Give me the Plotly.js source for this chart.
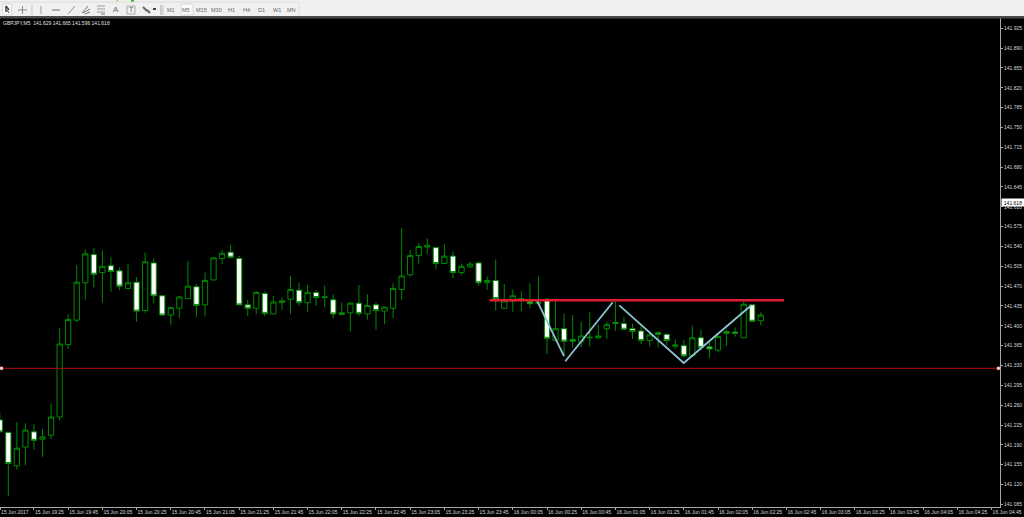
<!DOCTYPE html>
<html>
<head>
<meta charset="utf-8">
<script src="https://cdn.plot.ly/plotly-3.0.1.min.js"></script>
<style>html,body{margin:0;padding:0;background:#000;overflow:hidden}#chart{width:1024px;height:517px}</style>
</head>
<body>
<div id="chart"></div>
<script>
const barIndex = [-1,0,1,2,3,4,5,6,7,8,9,10,11,12,13,14,15,16,17,18,19,20,21,22,23,24,25,26,27,28,29,30,31,32,33,34,35,36,37,38,39,40,41,42,43,44,45,46,47,48,49,50,51,52,53,54,55,56,57,58,59,60,61,62,63,64,65,66,67,68,69,70,71,72,73,74,75,76,77,78,79,80,81,82,83,84,85,86,87,88];
const openPrice = [141.234,141.212,141.153,141.186,141.213,141.200,141.207,141.239,141.367,141.410,141.476,141.526,141.494,141.506,141.497,141.466,141.477,141.427,141.511,141.453,141.419,141.431,141.448,141.469,141.437,141.481,141.519,141.530,141.519,141.437,141.431,141.457,141.421,141.441,141.447,141.463,141.441,141.459,141.450,141.446,141.420,141.423,141.440,141.421,141.437,141.426,141.431,141.464,141.490,141.524,141.539,141.538,141.510,141.523,141.494,141.504,141.511,141.476,141.480,141.431,141.444,141.448,141.443,141.439,141.447,141.374,141.395,141.376,141.372,141.380,141.379,141.395,141.406,141.404,141.395,141.391,141.374,141.388,141.385,141.364,141.365,141.347,141.379,141.363,141.357,141.390,141.389,141.379,141.437,141.409];
const highPrice = [141.246,141.213,141.230,141.228,141.227,141.218,141.263,141.396,141.420,141.507,141.535,141.537,141.533,141.521,141.503,141.509,141.486,141.529,141.519,141.453,141.434,141.453,141.514,141.474,141.494,141.520,141.534,141.543,141.523,141.446,141.461,141.461,141.453,141.450,141.488,141.476,141.472,141.463,141.471,141.456,141.441,141.441,141.472,141.456,141.441,141.434,141.475,141.572,141.534,141.546,141.554,141.540,141.544,141.531,141.510,141.513,141.514,141.487,141.517,141.474,141.464,141.461,141.475,141.487,141.449,141.443,141.421,141.419,141.407,141.424,141.402,141.407,141.447,141.416,141.404,141.399,141.390,141.390,141.387,141.376,141.375,141.400,141.393,141.372,141.387,141.394,141.397,141.443,141.438,141.424];
const lowPrice = [141.212,141.100,141.146,141.154,141.182,141.169,141.200,141.233,141.359,141.406,141.446,141.468,141.441,141.460,141.463,141.465,141.407,141.423,141.440,141.418,141.402,141.414,141.447,141.416,141.417,141.480,141.509,141.519,141.437,141.417,141.421,141.417,141.421,141.428,141.421,141.435,141.425,141.435,141.433,141.413,141.420,141.390,141.417,141.411,141.393,141.403,141.414,141.446,141.487,141.510,141.527,141.500,141.509,141.484,141.490,141.502,141.471,141.464,141.427,141.430,141.425,141.426,141.431,141.439,141.350,141.373,141.347,141.362,141.362,141.364,141.377,141.377,141.391,141.393,141.377,141.368,141.364,141.362,141.366,141.359,141.344,141.347,141.357,141.343,141.353,141.364,141.381,141.379,141.407,141.401];
const closePrice = [141.213,141.157,141.184,141.216,141.198,141.204,141.239,141.368,141.411,141.477,141.527,141.491,141.505,141.496,141.470,141.476,141.426,141.513,141.453,141.419,141.432,141.451,141.470,141.436,141.480,141.520,141.528,141.521,141.437,141.431,141.459,141.422,141.442,141.444,141.464,141.441,141.459,141.450,141.451,141.421,141.423,141.440,141.422,141.436,141.427,141.433,141.466,141.488,141.524,141.540,141.542,141.510,141.523,141.494,141.505,141.509,141.476,141.480,141.448,141.444,141.453,141.447,141.439,141.441,141.378,141.395,141.373,141.373,141.382,141.379,141.382,141.402,141.404,141.394,141.390,141.374,141.384,141.385,141.374,141.366,141.347,141.379,141.362,141.359,141.381,141.387,141.387,141.438,141.408,141.419];

const xTickBars = [-0.96,3,7,11,15,19,23,27,31,35,39,43,47,51,55,59,63,67,71,75,79,83,87,91,95,99,103,107,111,115];
const xTickLabels = ["15 Jun 2017","15 Jun 19:25","15 Jun 19:45","15 Jun 20:05","15 Jun 20:25","15 Jun 20:45","15 Jun 21:05","15 Jun 21:25","15 Jun 21:45","15 Jun 22:05","15 Jun 22:25","15 Jun 22:45","15 Jun 23:05","15 Jun 23:25","15 Jun 23:45","16 Jun 00:05","16 Jun 00:25","16 Jun 00:45","16 Jun 01:05","16 Jun 01:25","16 Jun 01:45","16 Jun 02:05","16 Jun 02:25","16 Jun 02:45","16 Jun 03:05","16 Jun 03:25","16 Jun 03:45","16 Jun 04:05","16 Jun 04:25","16 Jun 04:45"];
const yTickPrices = [141.925,141.890,141.855,141.820,141.785,141.750,141.715,141.680,141.645,141.610,141.575,141.540,141.505,141.470,141.435,141.400,141.365,141.330,141.295,141.260,141.225,141.190,141.155,141.120,141.085];

const supportLevel = 141.325;
const resistanceBars = [56.28,90.72];
const resistancePrice = [141.445,141.445];
const legA_bars = [61.80,64.99];
const legA_price = [141.4455,141.3467];
const legB_bars = [65.14,70.69];
const legB_price = [141.3374,141.4415];
const legC_bars = [71.46,78.99,86.83];
const legC_price = [141.4362,141.3344,141.4355];

const quote = "GBPJPY,M5  141.629 141.665 141.596 141.618";
const lastPrice = 141.618;
const periods = ["M1","M5","M15","M30","H1","H4","D1","W1","MN"];
const periodX = [171,186,201,216,231,246,261,277,291];

const W=1024,H=517,mT=18,mB=10,mR=24,mL=0;
const pw=W-mL-mR, ph=H-mT-mB;
const fx=x=>(x-mL)/pw, fy=y=>1-(y-mT)/ph;
const font="'Liberation Sans',Arial,sans-serif";
const rect=(x0,y0,x1,y1,fill,line)=>({type:'rect',xref:'paper',yref:'paper',x0:fx(x0),x1:fx(x1),y0:fy(y1),y1:fy(y0),fillcolor:fill,line:{width:line?1:0,color:line||fill},layer:'above'});
const seg=(x0,y0,x1,y1,c,w)=>({type:'line',xref:'paper',yref:'paper',x0:fx(x0),x1:fx(x1),y0:fy(y0),y1:fy(y1),line:{color:c||'#8a8a8a',width:w||1},layer:'above'});

const shapes=[
  rect(0,0,1024,16,'#f0f0f0'),
  rect(0,16,1024,18.5,'#4a4a4a'),
  seg(0,2,300,2,'#dcdcdc'),
  rect(116.5,0,118,1.2,'#e0b020'), rect(131,0,134,1.5,'#30b030'),
  rect(2.5,4,11.5,15,'#fafafa','#d8d8d8'),
  rect(181,4,193,15,'#fafafa','#d8d8d8'),
  seg(6,6,6,12,'#444',1.5), seg(6,6,9,10,'#444',1.5), seg(7,10,9,13,'#444',1),
  seg(22.5,6,22.5,14), seg(18,10,27,10),
  seg(32,5,32,15,'#c4c4c4'),
  seg(41,6,41,14,'#a0a0a0'), seg(52,10,60,10,'#707070'), seg(68,14,75,6,'#909090'),
  seg(82,13,88,6,'#777'), seg(83,13,90,9,'#777'), seg(85,14,90,12,'#777'),
  seg(97,6,105,6,'#999'), seg(97,9,105,9,'#999'), seg(97,12,105,12,'#999'), seg(101,14,105,14,'#777'),
  rect(127,6,135,14,'#f0f0f0','#aaa'),
  seg(143,7,147,11,'#666',2), seg(147,10,150,13,'#666',2), seg(153,9,156,9,'#444',2),
  seg(161,5,161,15,'#a8a8a8'), seg(163,5,163,15,'#c8c8c8'), seg(299,3,299,16,'#dcdcdc')
];

const centred=(x,y,text,size)=>({xref:'paper',yref:'paper',x:fx(x),y:fy(y),xanchor:'center',yanchor:'middle',text:text,showarrow:false,font:{family:font,size:size,color:'#666'}});
const annotations=[
  {xref:'paper',yref:'paper',x:fx(1),y:fy(23),xanchor:'left',yanchor:'middle',text:quote,showarrow:false,font:{family:font,size:5,color:'#e0e0e0'}},
  {xref:'paper',yref:'y',x:1.0005,y:lastPrice,xanchor:'left',yanchor:'middle',text:lastPrice.toFixed(3),showarrow:false,bgcolor:'#ffffff',width:22,height:7,borderpad:0,font:{family:font,size:5,color:'#000'}},
  centred(116,10,'A',8),
  centred(131,10,'T',7)
];
periods.forEach((p,i)=>annotations.push(centred(periodX[i],10,p,5.5)));

const xr=[-0.974,115.98];
const blue={color:'#8fc3d4',width:1.8};
const traces=[
  {type:'candlestick',x:barIndex,open:openPrice,high:highPrice,low:lowPrice,close:closePrice,whiskerwidth:0,
   increasing:{line:{color:'#008a00',width:1},fillcolor:'#000000'},
   decreasing:{line:{color:'#008a00',width:1},fillcolor:'#ffffff'},showlegend:false,hoverinfo:'skip'},
  {type:'scatter',mode:'lines',x:xr,y:[supportLevel,supportLevel],line:{color:'#b50d0d',width:1},hoverinfo:'skip',showlegend:false},
  {type:'scatter',mode:'markers',x:[-0.8,115.8],y:[supportLevel,supportLevel],marker:{symbol:'square',size:3,color:'#fff',line:{color:'#d03030',width:0.5}},hoverinfo:'skip',showlegend:false},
  {type:'scatter',mode:'lines',x:legA_bars,y:legA_price,line:blue,hoverinfo:'skip',showlegend:false},
  {type:'scatter',mode:'lines',x:legB_bars,y:legB_price,line:blue,hoverinfo:'skip',showlegend:false},
  {type:'scatter',mode:'lines',x:legC_bars,y:legC_price,line:blue,hoverinfo:'skip',showlegend:false},
  {type:'scatter',mode:'lines',x:resistanceBars,y:resistancePrice,line:{color:'#e01c30',width:2.5},hoverinfo:'skip',showlegend:false}
];

const layout={
  width:W,height:H,paper_bgcolor:'#000',plot_bgcolor:'#000',showlegend:false,boxgap:0.12,
  margin:{l:mL,r:mR,t:mT,b:mB,pad:0},
  xaxis:{type:'linear',range:xr,rangeslider:{visible:false},showgrid:false,zeroline:false,showline:true,linecolor:'#a8a8a8',linewidth:1,
    tickmode:'array',tickvals:xTickBars,ticktext:xTickLabels,ticks:'outside',ticklen:2,tickcolor:'#a8a8a8',tickangle:0,
    ticklabelposition:'outside right',tickfont:{family:font,size:5,color:'#d8d8d8'}},
  yaxis:{type:'linear',side:'right',range:[141.0803,141.9432],showgrid:false,zeroline:false,showline:true,linecolor:'#a8a8a8',linewidth:1,
    tickmode:'array',tickvals:yTickPrices,ticktext:yTickPrices.map(v=>v.toFixed(3)),ticks:'outside',ticklen:2,tickcolor:'#a8a8a8',
    tickfont:{family:font,size:5,color:'#d8d8d8'}},
  shapes:shapes,annotations:annotations,hovermode:false
};
Plotly.newPlot('chart',traces,layout,{staticPlot:true,displayModeBar:false,responsive:false});
</script>
</body>
</html>
